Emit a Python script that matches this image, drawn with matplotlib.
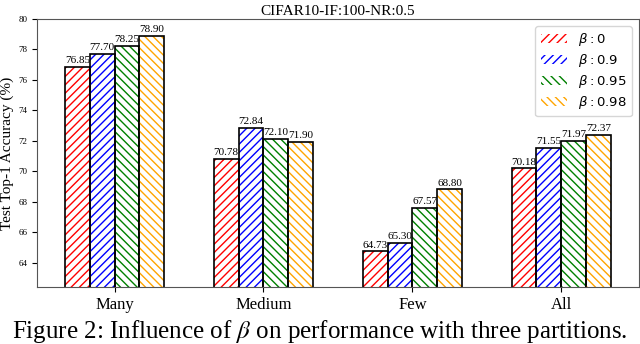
import numpy as np
import matplotlib.pyplot as plt

groups = ["Many", "Medium", "Few", "All"]
labels = [r"$\beta:0$", r"$\beta:0.9$", r"$\beta:0.95$", r"$\beta:0.98$"]
b0 = [76.85, 70.78, 64.73, 70.18]
b09 = [77.70, 72.84, 65.30, 71.55]
b095 = [78.25, 72.10, 67.57, 71.97]
b098 = [78.90, 71.90, 68.80, 72.37]
series = [b0, b09, b095, b098]
colors = ["red", "blue", "green", "orange"]
hatches = ["////", "////", "\\\\\\\\", "\\\\\\\\"]

serif = "Liberation Serif"
plt.rcParams["hatch.linewidth"] = 1.0

fig = plt.figure(figsize=(6.4, 3.44), dpi=100)
ax = fig.add_axes([0.058, 0.166, 0.94, 0.779])

x = np.arange(len(groups))
w = 0.167
for i, vals in enumerate(series):
    pos = x + (i - 1.5) * w
    ax.bar(pos, vals, w, fill=False, hatch=hatches[i], edgecolor=colors[i],
           linewidth=0, label=labels[i])
    ax.bar(pos, vals, w, fill=False, edgecolor="black", linewidth=1.2)
    for p, v in zip(pos, vals):
        ax.text(p, v + 0.12, "%.2f" % v, ha="center", va="bottom",
                fontsize=8, family=serif)

ax.set_ylim(62.4, 80)
ax.set_xlim(-0.52, 3.52)
ax.set_yticks(np.arange(64, 81, 2))
ax.set_yticklabels([str(t) for t in range(64, 81, 2)], fontsize=6.5, family=serif)
ax.set_xticks(x)
ax.set_xticklabels(groups, fontsize=12, family=serif)
ax.set_ylabel("Test Top-1 Accuracy (%)", fontsize=11, family=serif, labelpad=3)
ax.set_title("CIFAR10-IF:100-NR:0.5", fontsize=11, family=serif, pad=3)
for s in ax.spines.values():
    s.set_color("#555555")

ax.legend(loc="upper right", fontsize=9.5, handlelength=2.0, handleheight=0.7,
          borderpad=0.4, labelspacing=0.3, handletextpad=0.8,
          borderaxespad=0, bbox_to_anchor=(0.988, 0.974))

fig.text(0.5, 0.018, r"Figure 2: Influence of $\beta$ on performance with three partitions.",
         ha="center", va="baseline", fontsize=18, family=serif,
         math_fontfamily="stix")

fig.savefig("out.png", dpi=100)
